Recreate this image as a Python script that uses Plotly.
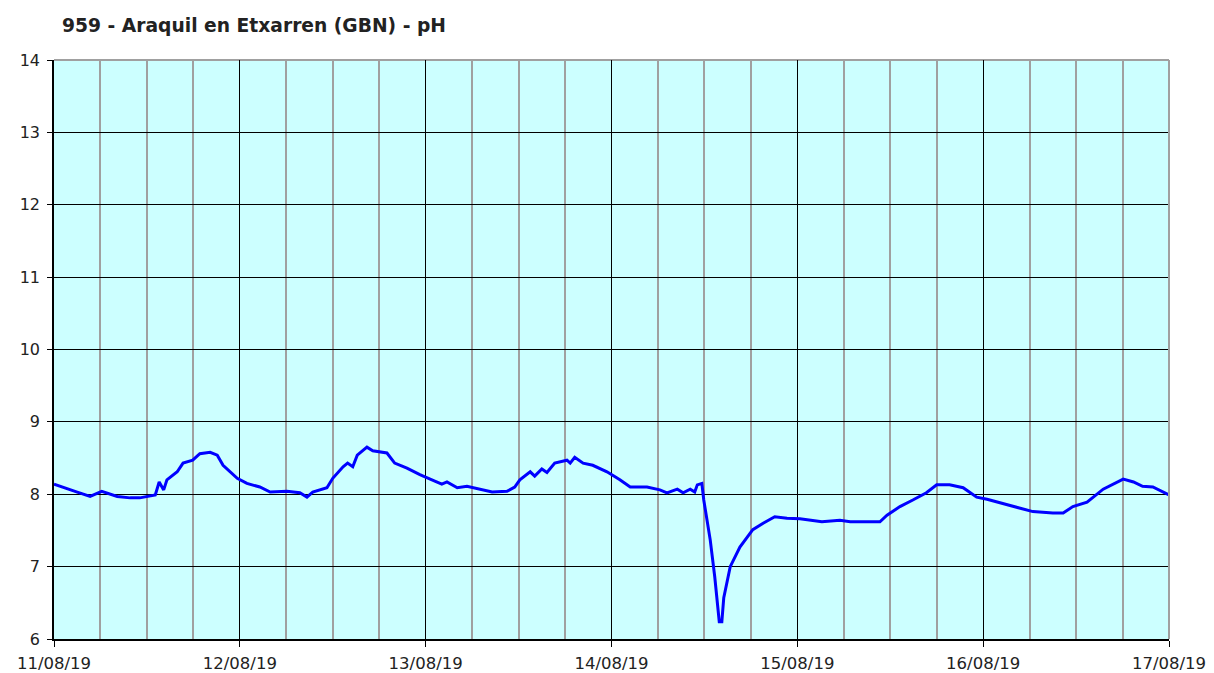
import plotly.graph_objects as go
import pandas as pd

TITLE = "959 - Araquil en Etxarren (GBN) - pH"

times = [
    "2019-08-11 00:00", "2019-08-11 02:00", "2019-08-11 03:00", "2019-08-11 04:40", "2019-08-11 06:10",
    "2019-08-11 08:10", "2019-08-11 09:50", "2019-08-11 11:05", "2019-08-11 13:05", "2019-08-11 13:35",
    "2019-08-11 14:10", "2019-08-11 14:35", "2019-08-11 15:55", "2019-08-11 16:40", "2019-08-11 17:55",
    "2019-08-11 18:50", "2019-08-11 20:10", "2019-08-11 21:05", "2019-08-11 21:50", "2019-08-11 23:40",
    "2019-08-12 00:55", "2019-08-12 02:35", "2019-08-12 03:55", "2019-08-12 06:05", "2019-08-12 07:45",
    "2019-08-12 08:40", "2019-08-12 09:25", "2019-08-12 11:15", "2019-08-12 12:00", "2019-08-12 13:20",
    "2019-08-12 13:55", "2019-08-12 14:35", "2019-08-12 15:10", "2019-08-12 16:25", "2019-08-12 17:10",
    "2019-08-12 19:00", "2019-08-12 20:00", "2019-08-12 21:35", "2019-08-12 23:15",
    "2019-08-13 00:35", "2019-08-13 02:05", "2019-08-13 02:45", "2019-08-13 04:05", "2019-08-13 05:20",
    "2019-08-13 07:00", "2019-08-13 08:35", "2019-08-13 10:30", "2019-08-13 11:30", "2019-08-13 12:10",
    "2019-08-13 13:30", "2019-08-13 14:05", "2019-08-13 15:00", "2019-08-13 15:40", "2019-08-13 16:40",
    "2019-08-13 18:15", "2019-08-13 18:40", "2019-08-13 19:15", "2019-08-13 20:20", "2019-08-13 21:35",
    "2019-08-13 23:25",
    "2019-08-14 01:05", "2019-08-14 02:25", "2019-08-14 04:35", "2019-08-14 06:15", "2019-08-14 07:10",
    "2019-08-14 08:30", "2019-08-14 09:15", "2019-08-14 10:10", "2019-08-14 10:45", "2019-08-14 11:05",
    "2019-08-14 11:40", "2019-08-14 11:55", "2019-08-14 12:45", "2019-08-14 13:20", "2019-08-14 13:55",
    "2019-08-14 14:15", "2019-08-14 14:30", "2019-08-14 15:20", "2019-08-14 16:35", "2019-08-14 18:15",
    "2019-08-14 19:35", "2019-08-14 21:05", "2019-08-14 22:40",
    "2019-08-15 00:20", "2019-08-15 03:10", "2019-08-15 05:30", "2019-08-15 06:50", "2019-08-15 10:40",
    "2019-08-15 11:35", "2019-08-15 13:15", "2019-08-15 14:55", "2019-08-15 16:40", "2019-08-15 18:00",
    "2019-08-15 19:40", "2019-08-15 21:25", "2019-08-15 23:10",
    "2019-08-16 00:30", "2019-08-16 02:10", "2019-08-16 04:25", "2019-08-16 06:25", "2019-08-16 09:00",
    "2019-08-16 10:20", "2019-08-16 11:35", "2019-08-16 13:25", "2019-08-16 15:30", "2019-08-16 18:05",
    "2019-08-16 19:25", "2019-08-16 20:35", "2019-08-16 21:55", "2019-08-17 00:00",
]

ph = [
    8.14, 8.06, 8.03, 7.97, 8.04,
    7.97, 7.95, 7.95, 7.99, 8.17,
    8.06, 8.20, 8.31, 8.43, 8.47,
    8.56, 8.58, 8.54, 8.40, 8.22,
    8.15, 8.10, 8.03, 8.04, 8.02,
    7.96, 8.03, 8.09, 8.22, 8.38,
    8.43, 8.38, 8.54, 8.65, 8.60,
    8.57, 8.43, 8.36, 8.27,
    8.21, 8.14, 8.17, 8.09, 8.11,
    8.07, 8.03, 8.04, 8.10, 8.20,
    8.31, 8.25, 8.35, 8.30, 8.43,
    8.47, 8.43, 8.51, 8.43, 8.40,
    8.31,
    8.20, 8.10, 8.10, 8.06, 8.02,
    8.07, 8.02, 8.07, 8.03, 8.13,
    8.15, 7.92, 7.37, 6.86, 6.24,
    6.24, 6.57, 7.00, 7.27, 7.51,
    7.60, 7.69, 7.67,
    7.66, 7.62, 7.64, 7.62, 7.62,
    7.71, 7.83, 7.92, 8.02, 8.13,
    8.13, 8.09, 7.96,
    7.93, 7.88, 7.81, 7.76, 7.74,
    7.74, 7.83, 7.89, 8.07, 8.21,
    8.17, 8.11, 8.10, 7.99,
]

x_range = ["2019-08-11", "2019-08-17"]
y_range = [6, 14]

FONT = "DejaVu Sans, Verdana, sans-serif"
W, H = 1206, 665  # page body has an 8px margin

fig = go.Figure()
fig.add_trace(go.Scatter(
    x=pd.to_datetime(times), y=ph, mode="lines",
    line=dict(color="#0000FF", width=3), showlegend=False,
))

fig.update_layout(
    width=W, height=H,
    margin=dict(l=46, r=45, t=52, b=34, pad=0),
    paper_bgcolor="white",
    plot_bgcolor="#CCFFFF",
    title=dict(
        text="<b>" + TITLE + "</b>",
        x=54 / W, xref="container", xanchor="left",
        y=1 - 17 / H, yref="container", yanchor="middle",
        font=dict(family=FONT, size=18.7, color="#222222"),
    ),
    font=dict(family=FONT, size=16, color="#222222"),
)

fig.update_xaxes(
    type="date", range=x_range, automargin=False,
    dtick=86400000, tick0="2019-08-11", tickformat="%d/%m/%y",
    showgrid=True, gridcolor="#000000", gridwidth=1,
    minor=dict(dtick=6 * 3600 * 1000, showgrid=True, gridcolor="#A0A0A0", gridwidth=2),
    ticks="outside", ticklen=6, tickcolor="#000000", ticklabelstandoff=2,
    showline=True, linecolor="#000000", linewidth=1.5, mirror=False,
    zeroline=False, tickfont=dict(size=16.5),
)
fig.update_yaxes(
    range=y_range, dtick=1, automargin=False,
    showgrid=True, gridcolor="#000000", gridwidth=1,
    ticks="outside", ticklen=5, tickcolor="#000000", ticklabelstandoff=4,
    showline=True, linecolor="#000000", linewidth=1.5,
    zeroline=False, tickfont=dict(size=16),
)

# gray border on top and right of plot area
fig.add_shape(type="line", xref="paper", yref="paper", x0=0, x1=1, y0=1, y1=1,
              line=dict(color="#A0A0A0", width=2), layer="below")
fig.add_shape(type="line", xref="paper", yref="paper", x0=1, x1=1, y0=0, y1=1,
              line=dict(color="#A0A0A0", width=2), layer="above")

fig.write_html("out.html")
